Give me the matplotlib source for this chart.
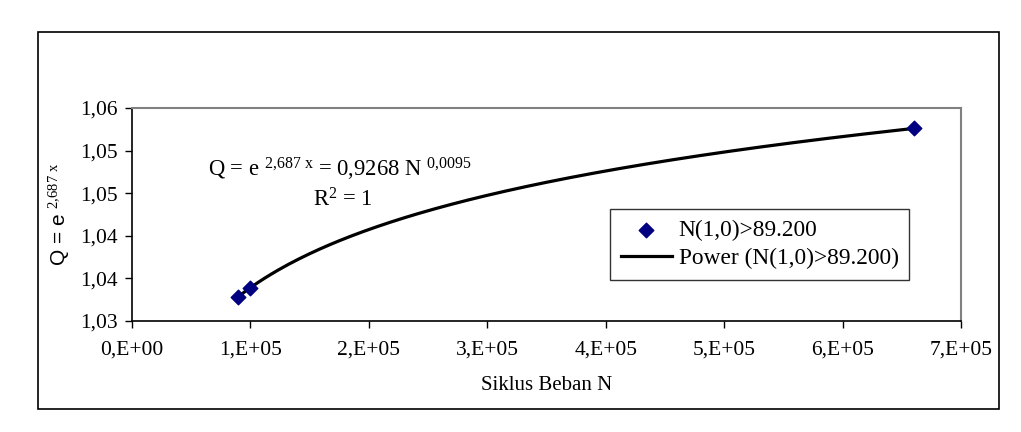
import numpy as np
import matplotlib
matplotlib.use("Agg")
import matplotlib.pyplot as plt
from matplotlib.patches import Rectangle
from matplotlib.ticker import FuncFormatter, MultipleLocator

# data
siklus_n = [89200, 100000, 660000]
q_values = [1.0328, 1.0339, 1.0526]
series_label = "N(1,0)>89.200"
trend_label = "Power (N(1,0)>89.200)"

plt.rcParams['font.family'] = ['Liberation Serif', 'DejaVu Serif']
plt.rcParams['mathtext.fontset'] = 'custom'
plt.rcParams['mathtext.rm'] = 'Liberation Serif'
plt.rcParams['mathtext.it'] = 'Liberation Serif'


def sci_fmt(v, pos):
    if v == 0:
        return "0,E+00"
    e = int(np.floor(np.log10(abs(v))))
    m = int(round(v / 10**e))
    return f"{m},E+{e:02d}"


def dec_fmt(v, pos):
    return f"{v:.2f}".replace(".", ",")


W, H = 1021, 432
fig = plt.figure(figsize=(W / 100, H / 100), dpi=100)
ax = fig.add_axes([132 / W, 1 - 321 / H, (961 - 132) / W, (321 - 108) / H])

# outer chart border
fig.patches.append(Rectangle((38 / W, 1 - 409 / H), (999 - 38) / W, (409 - 32) / H,
                             transform=fig.transFigure, fill=False,
                             edgecolor='black', linewidth=1.2))

# power trendline fitted to the points
b, log_a = np.polyfit(np.log(siklus_n), np.log(q_values), 1)
xs = np.linspace(siklus_n[0], siklus_n[-1], 200)
ax.plot(xs, np.exp(log_a) * xs**b, color='black', linewidth=2.3, label=trend_label, zorder=2)
ax.scatter(siklus_n, q_values, marker='D', s=55, color='#000080', label=series_label, zorder=3)

ax.set_xlim(0, 700000)
ax.set_ylim(1.030, 1.055)
ax.xaxis.set_major_locator(MultipleLocator(100000))
ax.yaxis.set_major_locator(MultipleLocator(0.005))
ax.xaxis.set_major_formatter(FuncFormatter(sci_fmt))
ax.yaxis.set_major_formatter(FuncFormatter(dec_fmt))
ax.tick_params(axis='both', direction='out', length=5, width=1, labelsize=15.5, colors='black')
ax.tick_params(axis='x', pad=9)
ax.tick_params(axis='y', pad=5)

for side in ['top', 'right']:
    ax.spines[side].set_color('#808080')
    ax.spines[side].set_linewidth(1.5)
for side in ['left', 'bottom']:
    ax.spines[side].set_color('black')
    ax.spines[side].set_linewidth(1.2)

ax.set_xlabel("Siklus Beban N", fontsize=15, labelpad=12)
ax.set_ylabel(r"Q = e $^{\mathrm{2{,}687\ x}}$", fontsize=15, family=['Liberation Sans'], labelpad=6)

fig.text(208 / W, 1 - 169 / H, r"Q = e $^{\mathrm{2{,}687\ x}}$ = 0,9268 N $^{\mathrm{0{,}0095}}$",
         fontsize=16.3, va='center', ha='left')
fig.text(313 / W, 1 - 200 / H, r"R$^{\mathrm{2}}$ = 1", fontsize=16.3, va='center', ha='left')

handles, labels = ax.get_legend_handles_labels()
leg = ax.legend(handles=handles[::-1], labels=labels[::-1],
                loc='upper left', bbox_to_anchor=(610 / W, 1 - 209 / H),
                bbox_transform=fig.transFigure, borderaxespad=0,
                fontsize=16.8, frameon=True, fancybox=False,
                edgecolor='black', borderpad=0.45, handlelength=2.2,
                handletextpad=0.3, labelspacing=0.3)
leg.get_frame().set_linewidth(1.0)

fig.savefig("out.png", dpi=100)
